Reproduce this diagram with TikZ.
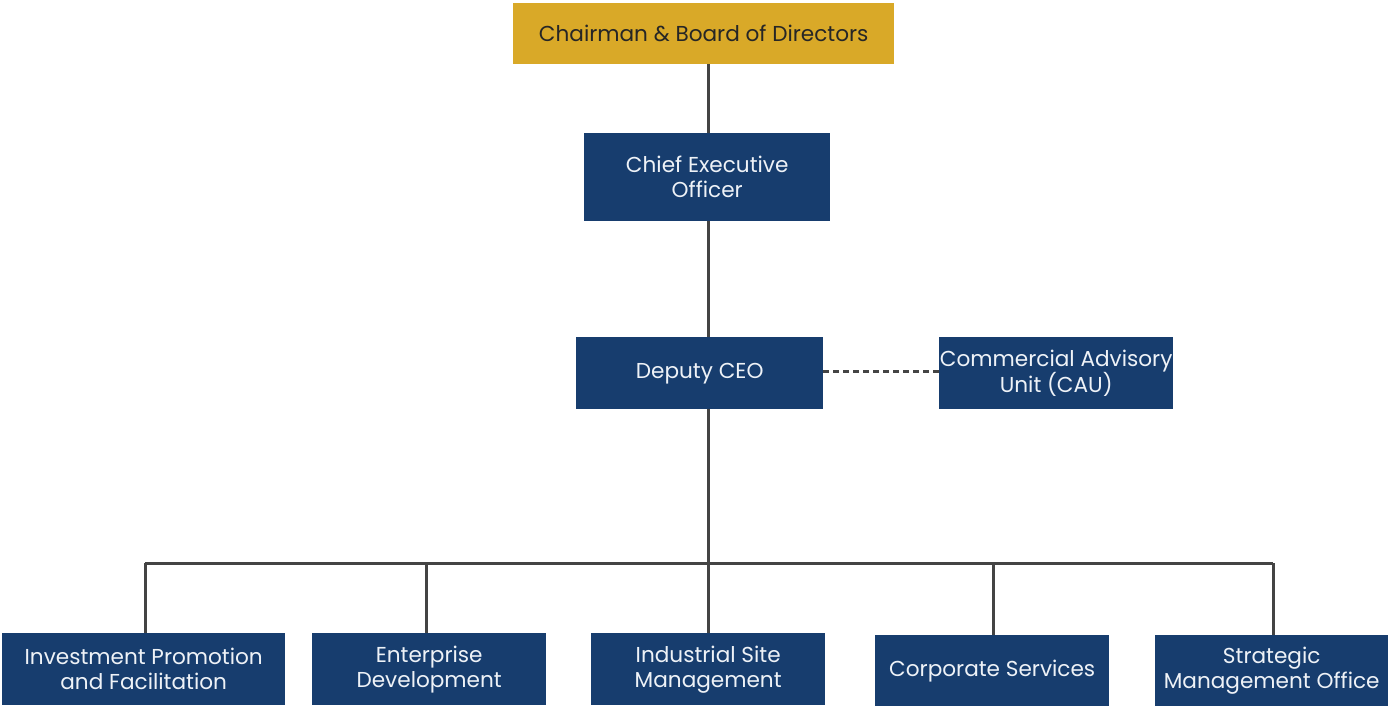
\documentclass[tikz,border=0pt]{standalone}
\usepackage{fontspec}
\setmainfont{Poppins}
\definecolor{navy}{HTML}{173D6E}
\definecolor{gold}{HTML}{D9A928}
\definecolor{linec}{HTML}{444444}
\definecolor{txt}{HTML}{EEF2F7}
\begin{document}
\begin{tikzpicture}[x=1pt,y=-1pt,
  box/.style={fill=navy,text=txt,font=\fontsize{21.6}{25}\selectfont,align=center,inner sep=0pt,anchor=north west},
  conn/.style={draw=linec,line width=3pt}]
\useasboundingbox (0,0) rectangle (1389,707);
\node[box,fill=gold,text=black!85,minimum width=381pt,minimum height=61pt] (chair) at (513,3) {Chairman \& Board of Directors};
\node[box,minimum width=246pt,minimum height=88pt] (ceo) at (584,133) {Chief Executive\\Officer};
\node[box,minimum width=247pt,minimum height=72pt] (dep) at (576,337) {Deputy CEO};
\node[box,minimum width=234pt,minimum height=72pt] (cau) at (939,337) {Commercial Advisory\\Unit (CAU)};
\node[box,minimum width=283pt,minimum height=72pt] (ipf) at (2,633) {Investment Promotion\\and Facilitation};
\node[box,minimum width=234pt,minimum height=72pt] (ed) at (312,633) {Enterprise\\Development};
\node[box,minimum width=234pt,minimum height=72pt] (ism) at (591,633) {Industrial Site\\Management};
\node[box,minimum width=234pt,minimum height=71pt] (cs) at (875,635) {Corporate Services};
\node[box,minimum width=233pt,minimum height=71pt] (smo) at (1155,635) {Strategic\\Management Office};
\coordinate (bl) at (145,563);
\coordinate (br) at (1273,563);
\coordinate (bus) at (708,563);
\draw[conn] (chair.south-|bus) -- (ceo.north-|bus);
\draw[conn] (ceo.south-|bus) -- (dep.north-|bus);
\draw[conn] (dep.south-|bus) -- (ism.north-|bus);
\draw[conn] (bl) -- (br);
\draw[conn] (bl) -- (ipf.north-|bl);
\draw[conn] (426,563) -- (ed.north-|426,563);
\draw[conn] (993,563) -- (cs.north-|993,563);
\draw[conn] (br) -- (smo.north-|br);
\draw[draw=linec,line width=3pt,dash pattern=on 6pt off 4pt] ([yshift=2pt]dep.east) -- ([yshift=2pt]cau.west);
\end{tikzpicture}
\end{document}
